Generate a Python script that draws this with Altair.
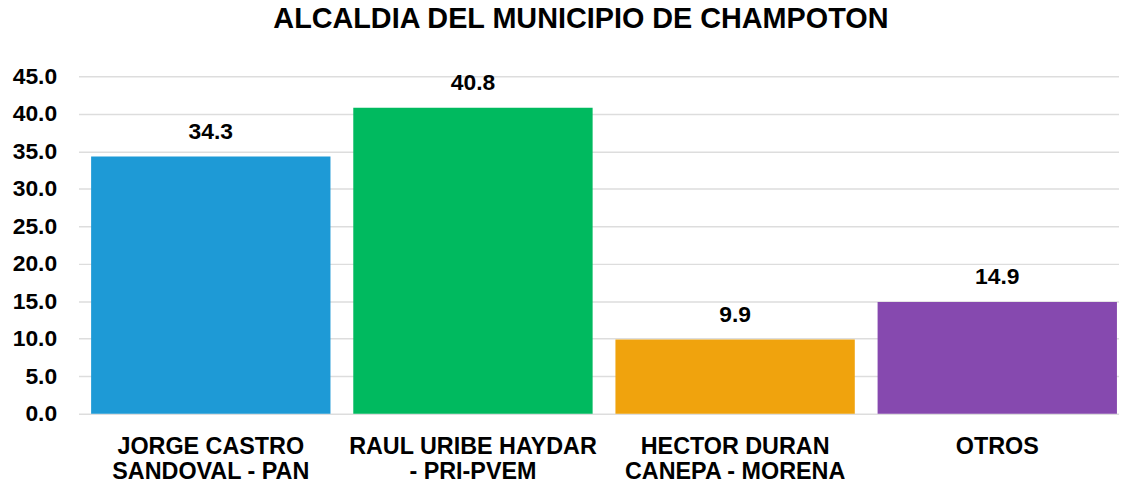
import altair as alt
import pandas as pd

categories = ["JORGE CASTRO\nSANDOVAL - PAN", "RAUL URIBE HAYDAR\n- PRI-PVEM",
              "HECTOR DURAN\nCANEPA - MORENA", "OTROS"]
values = [34.3, 40.8, 9.9, 14.9]
colors = ["#1E9AD6", "#00BA5F", "#F0A30D", "#8649AF"]
y_ticks = [0, 5, 10, 15, 20, 25, 30, 35, 40, 45]

df = pd.DataFrame({"cat": categories, "val": values, "color": colors})
FONT = "Liberation Sans"

x = alt.X("cat:N", sort=categories, title=None,
          scale=alt.Scale(paddingInner=0.087, paddingOuter=0.028, align=0.86),
          axis=alt.Axis(labelAngle=0, labelFont=FONT, labelFontSize=23.5, labelFontWeight="bold",
                        labelColor="#000000", labelPadding=21, labelLineHeight=25,
                        labelExpr="split(datum.label, '\\n')", ticks=False, domain=False,
                        labelLimit=400, labelOverlap=False))
y = alt.Y("val:Q", title=None,
          scale=alt.Scale(domain=[0, 45], nice=False),
          axis=alt.Axis(values=y_ticks, format=".1f", labelFont=FONT, labelFontSize=23,
                        labelFontWeight="bold", labelColor="#000000", labelPadding=22,
                        labelOverlap=False,
                        ticks=False, domain=False, gridColor="#dddddd", gridWidth=1.5))

bars = alt.Chart(df).mark_bar().encode(x=x, y=y, color=alt.Color("color:N", scale=None))
labels = alt.Chart(df).mark_text(font=FONT, fontSize=23, fontWeight="bold", color="#000000",
                                 baseline="alphabetic", dy=-18).encode(
    x=x, y=y, text=alt.Text("val:Q", format=".1f"))

chart = (bars + labels).properties(
    width=1048, height=340,
    autosize=alt.AutoSizeParams(type="none"),
    padding={"left": 71, "top": 67, "right": 0, "bottom": 70},
    title=alt.TitleParams("ALCALDIA DEL MUNICIPIO DE CHAMPOTON", font=FONT, fontSize=29,
                          fontWeight="bold", color="#000000", anchor="middle", dx=-18,
                          offset=32),
).configure_view(stroke=None)

chart.save("out.html", embed_options={"renderer": "svg", "actions": False})
